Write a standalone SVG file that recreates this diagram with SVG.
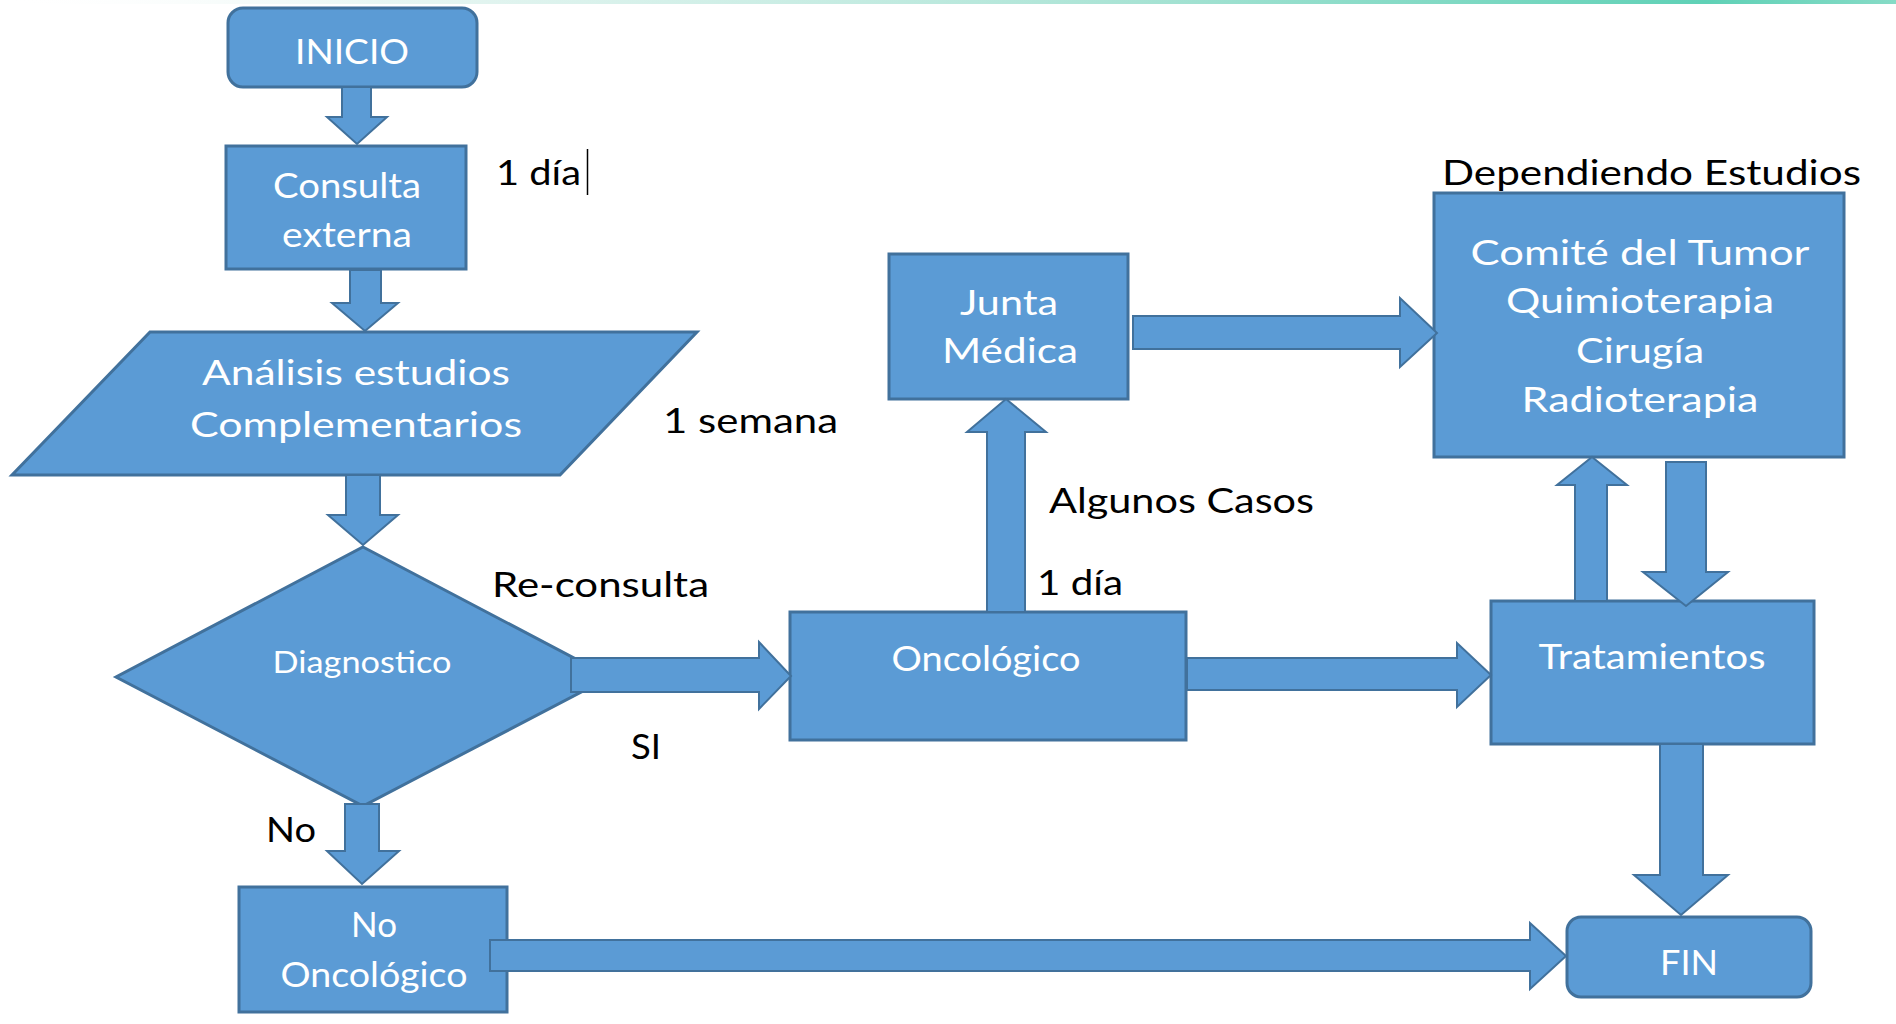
<svg xmlns="http://www.w3.org/2000/svg" width="1896" height="1024" viewBox="0 0 1896 1024">
<defs>
<linearGradient id="topg" x1="0" y1="0" x2="1" y2="0">
<stop offset="0" stop-color="#ffffff" stop-opacity="0"/>
<stop offset="0.2" stop-color="#d8f0ea" stop-opacity="0.6"/>
<stop offset="0.6" stop-color="#a8e3d4"/>
<stop offset="0.9" stop-color="#5fd1b6"/>
<stop offset="1" stop-color="#86dbc6"/>
</linearGradient>
<style>
.n{fill:#5B9BD5;stroke:#41719C;stroke-width:3}
.a{fill:#5B9BD5;stroke:#41719C;stroke-width:2;stroke-linejoin:miter}
.t{font-family:Lato,"Liberation Sans",sans-serif;font-size:34px;fill:#ffffff;text-anchor:middle}
.l{font-family:Lato,"Liberation Sans",sans-serif;font-size:34px;fill:#000000}
</style>
</defs>
<rect x="0" y="0" width="1896" height="1024" fill="#ffffff"/>
<rect x="0" y="0" width="1896" height="4" fill="url(#topg)"/>

<g id="inicio">
<rect class="n" x="228" y="8" width="249" height="79" rx="15"/>
<text class="t" x="352" y="64" textLength="114" lengthAdjust="spacingAndGlyphs">INICIO</text>
</g>

<g id="consulta">
<rect class="n" x="226" y="146" width="240" height="123"/>
<text class="t" x="347" y="198" textLength="148" lengthAdjust="spacingAndGlyphs">Consulta</text>
<text class="t" x="347" y="247" textLength="130" lengthAdjust="spacingAndGlyphs">externa</text>
</g>

<g id="analisis">
<polygon class="n" points="150,332 697,332 560,475 12,475"/>
<text class="t" x="356" y="385" textLength="308" lengthAdjust="spacingAndGlyphs">Análisis estudios</text>
<text class="t" x="356" y="437" textLength="332" lengthAdjust="spacingAndGlyphs">Complementarios</text>
</g>

<g id="diagnostico">
<polygon class="n" points="363,547 610,677 363,806 116,677"/>
<text class="t" x="362" y="673" style="font-size:30px" textLength="179" lengthAdjust="spacingAndGlyphs">Diagnostico</text>
</g>

<g id="no-oncologico">
<rect class="n" x="239" y="887" width="268" height="125"/>
<text class="t" x="374" y="937" textLength="46" lengthAdjust="spacingAndGlyphs">No</text>
<text class="t" x="374" y="987" textLength="187" lengthAdjust="spacingAndGlyphs">Oncológico</text>
</g>

<g id="oncologico">
<rect class="n" x="790" y="612" width="396" height="128"/>
<text class="t" x="986" y="671" textLength="189" lengthAdjust="spacingAndGlyphs">Oncológico</text>
</g>

<g id="junta-medica">
<rect class="n" x="889" y="254" width="239" height="145"/>
<text class="t" x="1009" y="315" textLength="98" lengthAdjust="spacingAndGlyphs">Junta</text>
<text class="t" x="1010" y="363" textLength="136" lengthAdjust="spacingAndGlyphs">Médica</text>
</g>

<g id="comite">
<rect class="n" x="1434" y="193" width="410" height="264"/>
<text class="t" x="1640" y="265" textLength="339" lengthAdjust="spacingAndGlyphs">Comité del Tumor</text>
<text class="t" x="1640" y="313" textLength="268" lengthAdjust="spacingAndGlyphs">Quimioterapia</text>
<text class="t" x="1640" y="363" textLength="128" lengthAdjust="spacingAndGlyphs">Cirugía</text>
<text class="t" x="1640" y="412" textLength="237" lengthAdjust="spacingAndGlyphs">Radioterapia</text>
</g>

<g id="tratamientos">
<rect class="n" x="1491" y="601" width="323" height="143"/>
<text class="t" x="1652" y="669" textLength="227" lengthAdjust="spacingAndGlyphs">Tratamientos</text>
</g>

<g id="fin">
<rect class="n" x="1567" y="917" width="244" height="80" rx="14"/>
<text class="t" x="1689" y="975" textLength="58" lengthAdjust="spacingAndGlyphs">FIN</text>
</g>

<g id="connectors">
<polygon class="a" points="342,87 371,87 371,117 387,117 357,144 327,117 342,117"/>
<polygon class="a" points="350,270 381,270 381,303 398,303 365,331 332,303 350,303"/>
<polygon class="a" points="346,475 380,475 380,515 398,515 363,545 328,515 346,515"/>
<polygon class="a" points="345,804 379,804 379,851 399,851 362,884 327,851 345,851"/>
<polygon class="a" points="571,658 759,658 759,642 791,676 759,709 759,692 571,692"/>
<polygon class="a" points="987,612 987,432 967,432 1006,399 1046,432 1025,432 1025,612"/>
<polygon class="a" points="1133,316 1400,316 1400,298 1437,333 1400,367 1400,349 1133,349"/>
<polygon class="a" points="1187,658 1457,658 1457,643 1491,675 1457,707 1457,690 1187,690"/>
<polygon class="a" points="1575,601 1575,485 1557,485 1592,457 1627,485 1607,485 1607,601"/>
<polygon class="a" points="1666,462 1706,462 1706,572 1728,572 1686,606 1643,572 1666,572"/>
<polygon class="a" points="1660,744 1703,744 1703,875 1728,875 1681,915 1634,875 1660,875"/>
<polygon class="a" points="490,940 1530,940 1530,923 1566,956 1530,989 1530,971 490,971"/>
</g>

<g id="labels">
<text class="l" x="496" y="185" textLength="85" lengthAdjust="spacingAndGlyphs">1 día</text>
<line x1="587.5" y1="149" x2="587.5" y2="195" stroke="#000000" stroke-width="1.5"/>
<text class="l" x="663" y="433" textLength="175" lengthAdjust="spacingAndGlyphs">1 semana</text>
<text class="l" x="492" y="597" textLength="217" lengthAdjust="spacingAndGlyphs">Re-consulta</text>
<text class="l" x="631" y="759" textLength="30" lengthAdjust="spacingAndGlyphs">SI</text>
<text class="l" x="266" y="842" textLength="50" lengthAdjust="spacingAndGlyphs">No</text>
<text class="l" x="1049" y="513" textLength="265" lengthAdjust="spacingAndGlyphs">Algunos Casos</text>
<text class="l" x="1037" y="595" textLength="86" lengthAdjust="spacingAndGlyphs">1 día</text>
<text class="l" x="1442" y="185" textLength="419" lengthAdjust="spacingAndGlyphs">Dependiendo Estudios</text>
</g>
</svg>
